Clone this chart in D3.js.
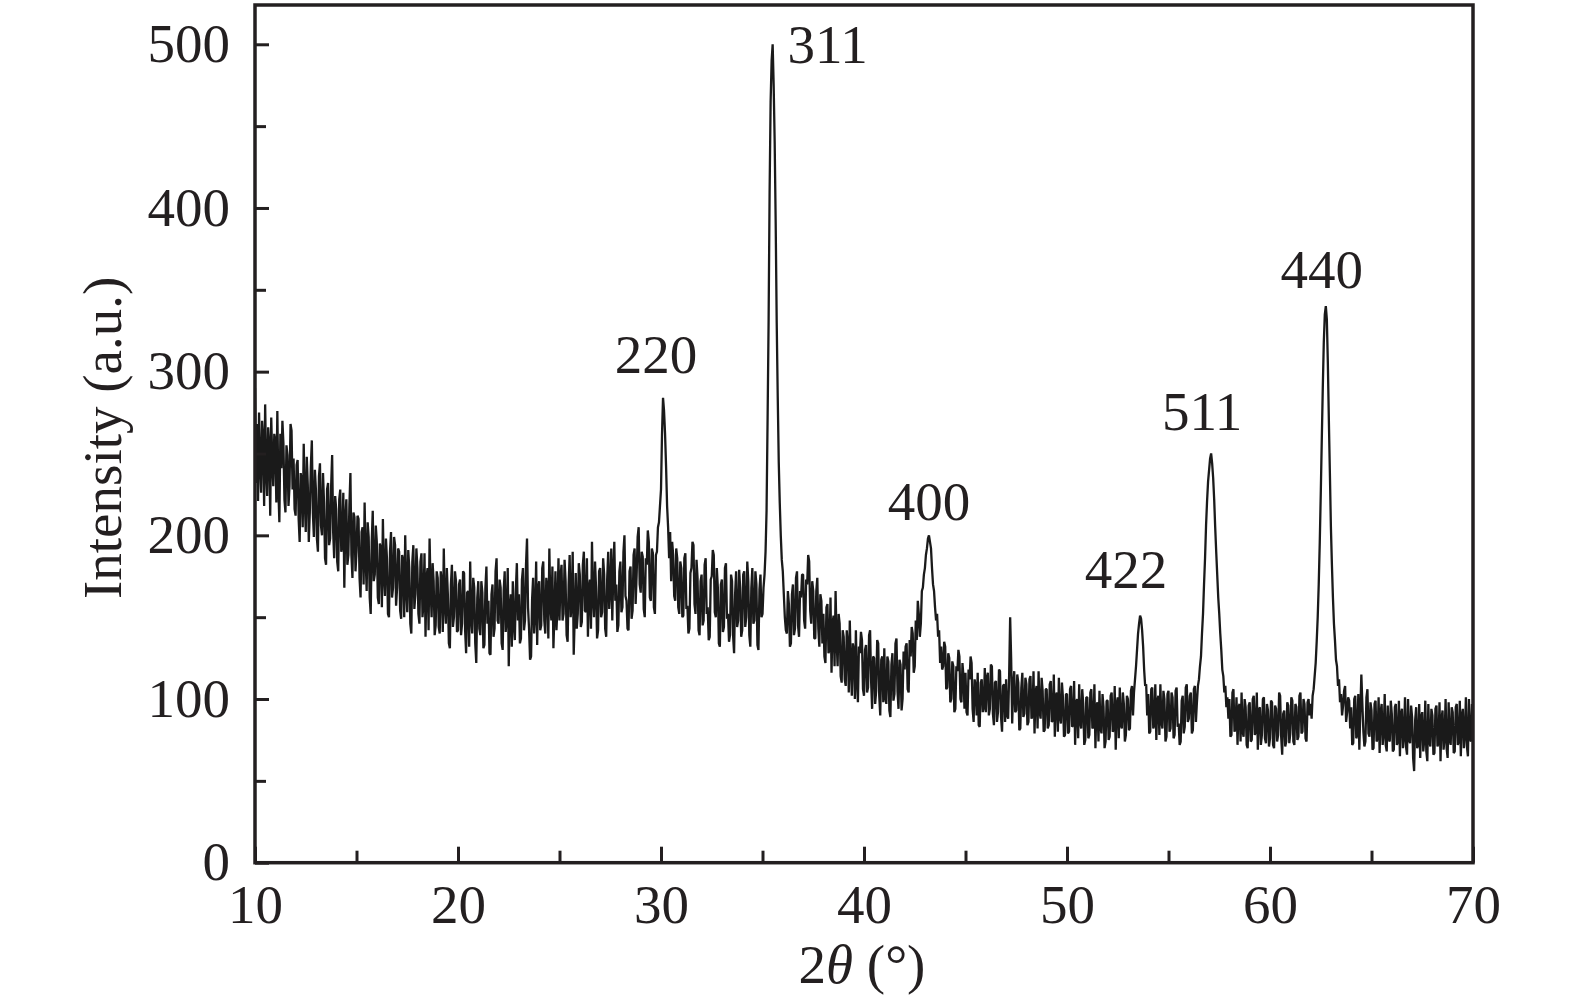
<!DOCTYPE html>
<html><head><meta charset="utf-8">
<script src="https://cdn.jsdelivr.net/npm/d3@7"></script>
<style>
body{margin:0;background:#fff}
svg{display:block}
text{font-family:"Liberation Serif","Times New Roman",serif;fill:#231f20}
</style>
</head><body>
<svg id="chart" width="1575" height="1004"></svg>
<script>
// ---- data ----
const scanStart = 10;      // 2θ of first sample (°)
const scanStep = 0.05;     // 2θ step (°)
const intensity = [
290,232,268,221,275,244,226,270,259,218,280,240,224,266,255,212,272,246,230,262,
258,220,276,229,208,262,241,270,256,222,214,255,249,218,230,268,264,228,247,216,
212,243,246,210,196,238,234,205,256,222,202,248,231,196,214,242,258,214,199,240,
228,198,190,236,244,206,200,238,220,186,182,228,232,194,198,230,249,202,186,224,
216,184,178,222,228,190,194,226,168,210,222,182,188,218,238,188,174,214,211,178,
190,212,210,174,162,202,205,170,220,186,166,208,199,162,152,196,215,172,176,206,
196,162,158,195,192,156,210,176,163,198,186,152,150,190,202,162,168,199,194,157,
168,192,190,154,149,188,185,150,200,168,153,191,180,146,140,184,194,155,164,192,
180,152,146,184,189,150,158,189,138,174,180,142,198,168,150,183,172,139,145,178,
174,144,140,178,172,141,192,158,146,180,164,134,131,170,182,144,150,178,172,141,
142,170,173,139,146,178,177,142,128,165,166,132,184,150,140,174,168,134,122,162,
172,143,139,172,165,131,133,168,181,146,160,128,127,164,170,138,143,178,186,148,
146,173,168,134,130,166,178,141,150,180,120,156,164,132,172,146,136,167,183,148,
164,134,137,173,180,142,148,182,198,156,143,124,126,161,174,140,152,184,133,168,
172,142,145,180,184,148,140,174,168,137,192,157,148,181,131,152,178,142,156,186,
148,175,182,148,152,185,172,139,135,170,188,150,158,190,127,150,177,143,152,183,
176,144,147,182,190,154,153,186,138,168,173,143,196,162,150,184,168,137,142,178,
180,150,153,186,176,143,138,174,190,155,168,192,148,177,196,160,170,141,145,178,
184,153,156,190,200,163,160,143,142,178,181,149,154,188,192,158,176,199,205,170,
165,190,187,155,150,186,182,203,196,162,160,192,189,156,152,188,190,205,208,218,
228,262,284,276,262,242,218,205,186,202,172,196,188,163,160,192,186,156,152,184,
180,150,151,186,189,155,157,140,143,177,180,196,194,158,152,185,174,142,139,172,
176,145,148,182,186,152,156,136,138,173,175,191,188,153,150,180,168,134,132,170,
173,141,144,180,183,149,152,135,139,176,172,139,128,164,178,144,148,179,168,138,
142,176,178,144,150,184,172,139,132,168,180,146,148,178,170,133,130,167,176,150,
152,168,176,190,215,270,330,410,465,490,500,475,440,390,330,285,245,220,200,185,
178,164,150,142,140,166,158,132,134,164,170,139,143,174,178,145,138,166,162,176,
176,148,143,173,170,188,184,154,146,172,166,137,137,166,174,143,132,164,160,134,
152,126,122,156,158,128,130,162,116,146,151,120,166,136,120,152,146,114,110,142,
138,112,108,142,134,104,148,120,102,134,130,100,142,112,98,132,128,141,136,106,
102,130,133,104,107,139,142,111,94,126,125,97,105,136,134,102,90,124,126,98,
131,101,97,126,123,93,89,121,128,99,103,134,137,105,94,124,121,93,100,129,
118,132,134,106,104,136,126,144,140,116,120,148,136,160,152,138,146,166,168,176,
180,188,192,198,200,196,192,180,170,166,156,148,152,138,142,122,132,118,120,135,
132,106,107,128,125,98,100,123,120,92,94,120,117,130,126,100,98,122,114,94,
116,92,90,118,112,126,122,94,86,112,108,90,116,84,83,110,112,92,95,119,
92,113,116,90,94,121,120,91,84,110,111,86,92,118,117,89,80,108,109,86,
112,90,88,115,150,124,85,108,117,92,93,115,110,81,82,107,116,89,91,113,
109,84,86,112,114,88,90,117,79,104,108,82,117,92,88,113,105,80,81,106,
106,82,84,109,111,86,87,115,77,102,104,80,113,89,85,110,101,77,78,103,
103,79,80,106,108,83,84,111,72,98,100,76,109,86,82,106,97,72,75,101,
101,76,78,104,106,82,83,109,70,96,98,74,105,82,79,103,95,70,74,99,
99,75,77,102,104,80,81,108,69,97,101,76,107,84,82,104,97,74,78,102,
100,81,82,105,108,90,104,112,120,130,140,146,151,149,142,132,118,108,109,90,
103,79,80,106,107,82,84,109,75,99,102,78,109,86,82,105,100,74,77,103,
105,80,82,104,101,76,78,105,107,83,85,72,74,99,102,79,83,107,109,86,
88,102,104,79,81,106,108,86,98,108,112,120,126,140,152,170,186,206,221,233,
240,247,250,244,235,222,205,190,176,162,152,140,130,118,114,104,108,95,101,88,
100,77,78,104,106,80,82,101,72,95,97,74,104,80,77,100,95,72,70,96,
98,74,75,100,102,78,80,104,69,93,95,72,78,100,101,76,73,97,93,71,
76,99,98,72,70,96,94,74,78,104,102,77,66,91,93,71,74,98,96,73,
79,101,99,74,72,97,95,75,77,102,104,79,80,100,97,76,74,98,100,90,
97,88,102,106,114,122,135,150,170,195,225,258,290,318,335,340,332,305,270,238,
205,182,162,146,136,124,120,108,112,98,103,90,96,105,108,86,92,101,99,82,
95,72,73,100,102,76,78,103,69,93,115,97,80,71,74,101,106,79,77,98,
93,69,70,97,99,74,76,101,67,92,97,72,79,103,72,68,96,76,74,99,
91,68,69,95,97,72,74,99,65,91,94,70,77,101,71,66,100,75,73,96,
89,64,56,87,95,70,72,97,64,89,92,68,75,99,68,62,97,74,71,94,
90,66,67,94,96,71,73,98,62,88,93,69,76,100,70,64,98,75,72,95,
92,67,68,95,97,72,74,99,65,90,94,70,78,101,71,65,100,76,74,97,
82
];
const xTicks = [10, 20, 30, 40, 50, 60, 70];
const xMinorTicks = [15, 25, 35, 45, 55, 65];
const yTicks = [0, 100, 200, 300, 400, 500];
const yMinorTicks = [50, 150, 250, 350, 450];
const peakNames = ["220", "311", "400", "422", "511", "440"];
const peak2Theta = [30.1, 35.5, 43.2, 53.6, 57.1, 62.75];
const peakIntensity = [286, 500, 200, 150, 251, 340];
const xDomain = [10, 70];
const yDomain = [0, 524];

// ---- layout ----
const svg = d3.select("#chart");
const m = {left: 255, top: 5, right: 102, bottom: 141.3};
const W = 1575 - m.left - m.right, H = 1004 - m.top - m.bottom;
const g = svg.append("g").attr("transform", `translate(${m.left},${m.top})`);
const x = d3.scaleLinear().domain(xDomain).range([0, W]);
const y = d3.scaleLinear().domain(yDomain).range([H, 0]);
const ink = "#231f20";
const fs = 55;

g.append("clipPath").attr("id", "clip").append("rect").attr("width", W).attr("height", H);

const line = d3.line()
  .x((d, i) => x(scanStart + i * scanStep))
  .y(d => y(d));
g.append("path").datum(intensity)
  .attr("clip-path", "url(#clip)")
  .attr("fill", "none").attr("stroke", "#1a1a1a").attr("stroke-width", 2.3)
  .attr("stroke-linejoin", "bevel").attr("d", line);

// axes
const xAx = g.append("g").attr("transform", `translate(0,${H})`)
  .call(d3.axisBottom(x).tickValues(xTicks).tickSizeInner(-16).tickSizeOuter(0).tickFormat(d3.format("d")));
xAx.selectAll("text").attr("y", 60).attr("dy", 0).style("font-size", fs + "px").attr("fill", ink);
g.append("g").attr("transform", `translate(0,${H})`)
  .call(d3.axisBottom(x).tickValues(xMinorTicks).tickSizeInner(-12).tickSizeOuter(0).tickFormat(""));

const yAx = g.append("g")
  .call(d3.axisLeft(y).tickValues(yTicks).tickSizeInner(-14).tickSizeOuter(0).tickFormat(d3.format("d")));
yAx.selectAll("text").attr("x", -25).attr("dy", "0.31em").style("font-size", fs + "px").attr("fill", ink);
g.append("g")
  .call(d3.axisLeft(y).tickValues(yMinorTicks).tickSizeInner(-11).tickSizeOuter(0).tickFormat(""));

g.selectAll(".domain").remove();
g.selectAll(".tick line").attr("stroke", ink).attr("stroke-width", 3);

g.append("rect").attr("width", W).attr("height", H)
  .attr("fill", "none").attr("stroke", ink).attr("stroke-width", 3.5);

// peak labels (offset in px from the peak apex)
const labelOffset = [[-7, -22], [55, 19], [0, -15], [-14, -29], [-9, -22], [-4, -18]];
g.selectAll(".peak").data(peakNames).join("text")
  .attr("class", "peak")
  .attr("x", (d, i) => x(peak2Theta[i]) + labelOffset[i][0])
  .attr("y", (d, i) => y(peakIntensity[i]) + labelOffset[i][1])
  .attr("text-anchor", "middle").style("font-size", fs + "px")
  .text(d => d);

// axis titles
const xt = svg.append("text").attr("x", m.left + W / 2 - 2).attr("y", 983)
  .attr("text-anchor", "middle").style("font-size", fs + "px");
xt.append("tspan").text("2");
xt.append("tspan").style("font-style", "italic").text("θ");
xt.append("tspan").text(" (°)");

svg.append("text")
  .attr("transform", `translate(121,${m.top + H / 2 + 4}) rotate(-90)`)
  .attr("text-anchor", "middle").style("font-size", fs + "px")
  .text("Intensity (a.u.)");
</script>
</body></html>
